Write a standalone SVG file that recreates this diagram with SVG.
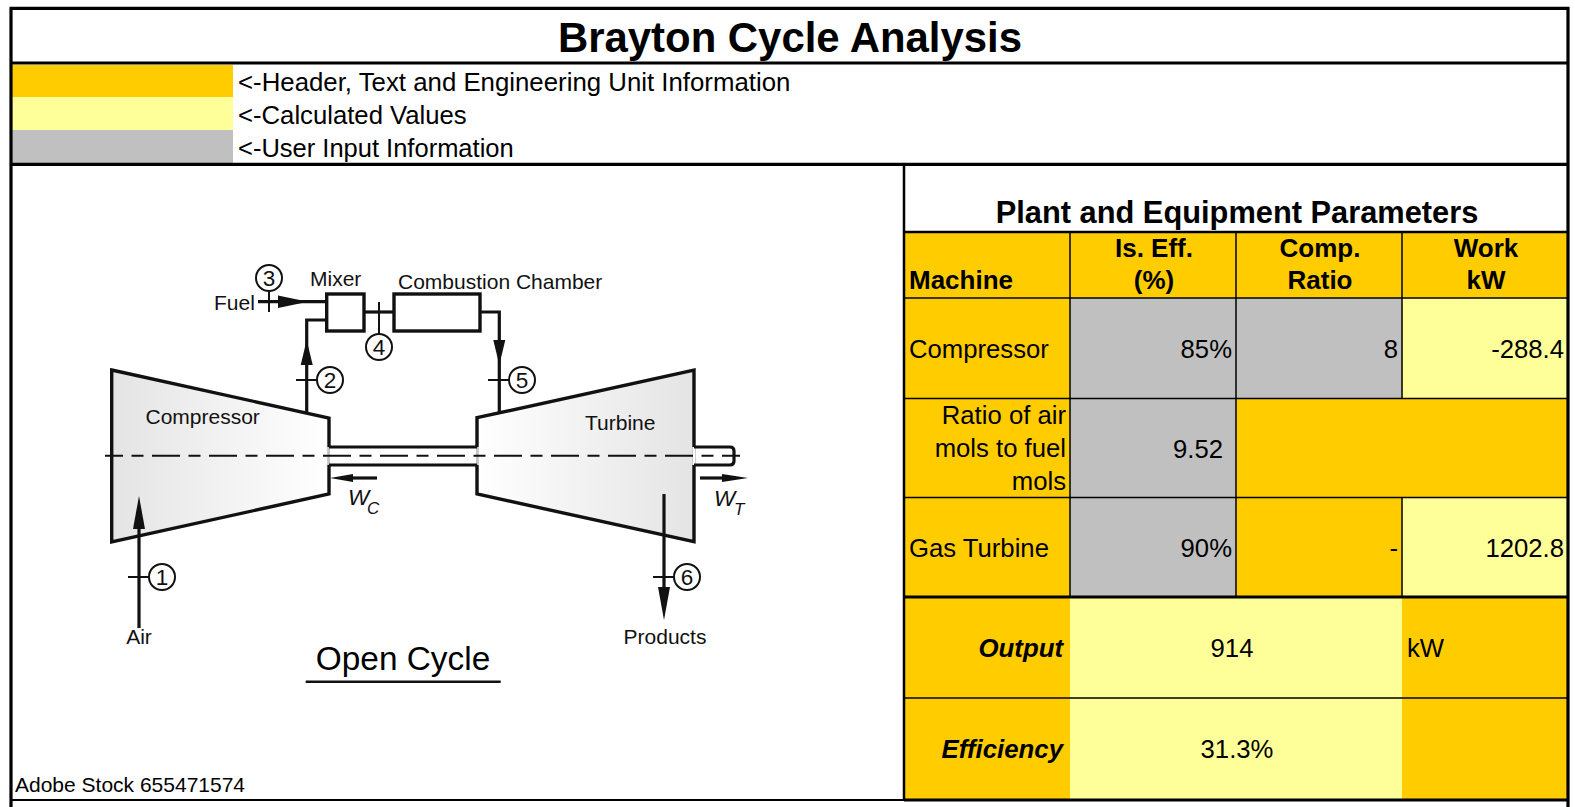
<svg xmlns="http://www.w3.org/2000/svg" width="1575" height="807" viewBox="0 0 1575 807">
<style>
text{font-family:"Liberation Sans",Arial,sans-serif;fill:#000}
.t{font-size:25.7px}
.b{font-size:26px;font-weight:700}
.bi{font-size:25.8px;font-weight:700;font-style:italic}
.h{font-size:30.8px;font-weight:700}
.m{text-anchor:middle}
.e{text-anchor:end}
.l{font-size:21px;fill:#111}
.n{font-size:22.5px;fill:#111;text-anchor:middle}
.w{font-size:22.5px;font-style:italic;fill:#111}
.s{font-size:17px;font-style:italic;fill:#111}
.o{fill:#fc0}
.y{fill:#ff9}
.g{fill:#c0c0c0}
.thin{stroke:#000;stroke-width:1.5;fill:none}
.heavy{stroke:#000;stroke-width:3.2;fill:none}
.part{stroke:#111;stroke-width:3.4;fill:#fff;stroke-linejoin:miter}
.flow{stroke:#111;stroke-width:3.2;fill:none}
.tick{stroke:#111;stroke-width:2;fill:none}
.ring{stroke:#111;stroke-width:2;fill:#fff}
.head{fill:#111}
</style>
<defs>
<linearGradient id="gc" x1="0" x2="1" y1="0" y2="0"><stop offset="0" stop-color="#e4e4e4"/><stop offset="1" stop-color="#fff"/></linearGradient>
<linearGradient id="gt" x1="0" x2="1" y1="0" y2="0"><stop offset="0" stop-color="#fff"/><stop offset="1" stop-color="#e4e4e4"/></linearGradient>
</defs>
<rect width="1575" height="807" fill="#fff"/>

<g id="legend">
<rect class="o" x="12" y="65" width="221" height="32"/>
<rect class="y" x="12" y="97" width="221" height="33"/>
<rect class="g" x="12" y="130" width="221" height="33"/>
<text class="t" x="238" y="91" style="font-size:25.8px">&lt;-Header, Text and Engineering Unit Information</text>
<text class="t" x="238" y="124">&lt;-Calculated Values</text>
<text class="t" x="238" y="157" style="font-size:25.5px">&lt;-User Input Information</text>
</g>

<g id="title">
<text x="790" y="52" font-size="41.9" font-weight="700" text-anchor="middle">Brayton Cycle Analysis</text>
</g>

<g id="table">
<rect class="o" x="904" y="232" width="664" height="66"/>
<rect class="o" x="904" y="298" width="166" height="299"/>
<rect class="g" x="1070" y="298" width="332" height="100.5"/>
<rect class="y" x="1402" y="298" width="166" height="100.5"/>
<rect class="g" x="1070" y="398.5" width="166" height="198.5"/>
<rect class="o" x="1236" y="398.5" width="332" height="99"/>
<rect class="o" x="1236" y="497.5" width="166" height="99.5"/>
<rect class="y" x="1402" y="497.5" width="166" height="99.5"/>
<rect class="o" x="904" y="597" width="166" height="203"/>
<rect class="y" x="1070" y="597" width="332" height="203"/>
<rect class="o" x="1402" y="597" width="166" height="203"/>
<path class="thin" d="M904 298H1568M904 398.5H1568M904 497.5H1568M904 698H1568M1070 232V597M1236 232V597M1402 232V398.5M1402 497.5V597"/>
<text class="h m" x="1237" y="223">Plant and Equipment Parameters</text>
<text class="b" x="909" y="289">Machine</text>
<text class="b m" x="1154" y="257">Is. Eff.</text>
<text class="b m" x="1154" y="289">(%)</text>
<text class="b m" x="1320" y="257">Comp.</text>
<text class="b m" x="1320" y="289">Ratio</text>
<text class="b m" x="1486" y="257">Work</text>
<text class="b m" x="1486" y="289">kW</text>
<text class="t" x="909" y="358">Compressor</text>
<text class="t e" x="1232" y="358">85%</text>
<text class="t e" x="1398" y="358">8</text>
<text class="t e" x="1564" y="358">-288.4</text>
<text class="t e" x="1066" y="424">Ratio of air</text>
<text class="t e" x="1066" y="457">mols to fuel</text>
<text class="t e" x="1066" y="490">mols</text>
<text class="t e" x="1223" y="458">9.52</text>
<text class="t" x="909" y="557">Gas Turbine</text>
<text class="t e" x="1232" y="557">90%</text>
<text class="t e" x="1398" y="557">-</text>
<text class="t e" x="1564" y="557">1202.8</text>
<text class="bi e" x="1063" y="657">Output</text>
<text class="t m" x="1232" y="657">914</text>
<text class="t" x="1407" y="657">kW</text>
<text class="bi e" x="1063" y="758">Efficiency</text>
<text class="t m" x="1237" y="758">31.3%</text>
</g>

<g id="frame">
<path class="heavy" d="M11 8.3V807M1568 8.3V807M9.5 8.3H1569.5M11 63H1568M11 164.3H1568M904 597H1568M904 800H1568"/>
<path d="M904 164.3V800" stroke="#000" stroke-width="2.5" fill="none"/>
<path d="M904 232H1568" stroke="#000" stroke-width="2.5" fill="none"/>
<path d="M11 800H904" stroke="#000" stroke-width="2" fill="none"/>
</g>

<g id="compressor">
<polygon class="part" style="fill:url(#gc)" points="111.7,370 329,418 329,494 111.7,542"/>
<text class="l" x="145.5" y="424">Compressor</text>
</g>
<g id="turbine">
<polygon class="part" style="fill:url(#gt)" points="477,417.7 694,370 694,541.7 477,494"/>
<text class="l" x="585" y="430">Turbine</text>
</g>
<g id="shaft">
<rect x="327.3" y="447" width="151.4" height="18" fill="#fff"/>
<path d="M329 447V465M477 447V465M694 447V465" stroke="#888" stroke-width="1" fill="none"/>
<rect x="692.3" y="447" width="3.4" height="18" fill="#fff"/>
<path d="M329 447H477M329 465H477" class="flow"/>
<path d="M694 447H730Q734 447 734 451V461Q734 465 730 465H694" class="flow"/>
</g>
<g id="mixer">
<rect class="part" x="326.7" y="294" width="37.3" height="37"/>
<text class="l" x="310" y="286">Mixer</text>
</g>
<g id="chamber">
<rect class="part" x="394" y="294" width="86" height="37"/>
<text class="l" x="398" y="289">Combustion Chamber</text>
</g>

<g id="connectors">
<path class="flow" d="M139 628V520"/>
<polygon class="head" points="139,496 133,529 145,529"/>
<path class="flow" d="M306.7 413V320H327"/>
<polygon class="head" points="306.7,340 300.7,365 312.7,365"/>
<path class="flow" d="M258 301.7H327"/>
<polygon class="head" points="308,301.7 278,295.5 278,308"/>
<path class="flow" d="M364 312H394"/>
<path class="flow" d="M480 312H499.3V412"/>
<polygon class="head" points="499.3,365 493.3,340 505.3,340"/>
<path class="flow" d="M664 494V600"/>
<polygon class="head" points="664,620 658,587 670,587"/>
<path class="flow" d="M377 478H345"/>
<polygon class="head" points="330,478 353,474 353,482"/>
<path class="flow" d="M700 478H730"/>
<polygon class="head" points="748,478 722,474 722,482"/>
<path d="M105 455.7H740" stroke="#111" stroke-width="2" fill="none" stroke-dasharray="28 8.5 12 8.5" stroke-dashoffset="10"/>
</g>

<g id="station-1"><path class="tick" d="M128 577H149"/><circle class="ring" cx="162" cy="577" r="13"/><text class="n" x="162" y="585">1</text></g>
<g id="station-2"><path class="tick" d="M296 380H317"/><circle class="ring" cx="330" cy="380" r="13"/><text class="n" x="330" y="388">2</text></g>
<g id="station-3"><path class="tick" d="M269 291V312"/><circle class="ring" cx="269" cy="278" r="13"/><text class="n" x="269" y="286">3</text></g>
<g id="station-4"><path class="tick" d="M379 302V334"/><circle class="ring" cx="379" cy="347" r="13"/><text class="n" x="379" y="355">4</text></g>
<g id="station-5"><path class="tick" d="M488 380H509"/><circle class="ring" cx="522" cy="380" r="13"/><text class="n" x="522" y="388">5</text></g>
<g id="station-6"><path class="tick" d="M653 577H674"/><circle class="ring" cx="687" cy="577" r="13"/><text class="n" x="687" y="585">6</text></g>

<g id="labels">
<text class="l" x="214" y="310">Fuel</text>
<text class="l m" x="139" y="644">Air</text>
<text class="l m" x="665" y="644">Products</text>
<text x="403" y="670" font-size="33.4" fill="#111" text-anchor="middle">Open Cycle</text>
<path d="M305.7 681.7H500.7" stroke="#111" stroke-width="2.4" fill="none"/>
<text class="w" x="348" y="505">W</text><text class="s" x="367" y="514">C</text>
<text class="w" x="714" y="506">W</text><text class="s" x="734" y="515">T</text>
<text x="15" y="792" font-size="21">Adobe Stock 655471574</text>
</g>
</svg>
